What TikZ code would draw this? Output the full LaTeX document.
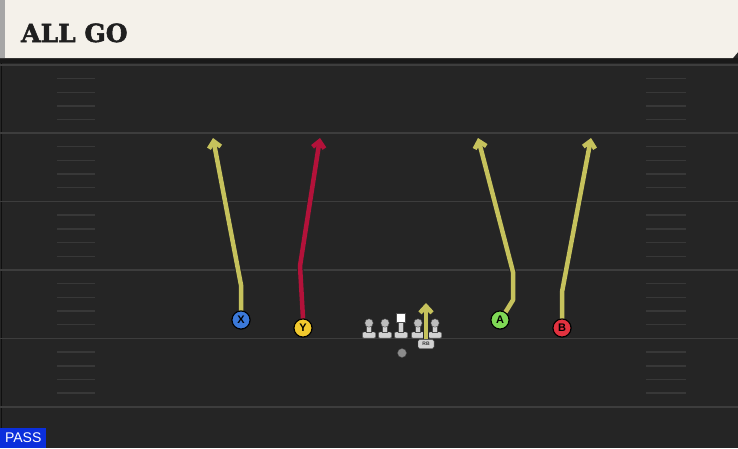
\documentclass[tikz,border=0pt]{standalone}
\usepackage{fontspec}
\setmainfont{DejaVu Serif}
\setsansfont{Liberation Sans}
\newfontfamily\titlefont[UprightFont={* Bold}, UprightFeatures={FakeBold=2}]{DejaVu Serif}
\usetikzlibrary{arrows.meta}
\definecolor{cream}{HTML}{F4F1EA}
\definecolor{fieldbg}{HTML}{252525}
\definecolor{yardline}{HTML}{3D3D3D}
\definecolor{hashc}{HTML}{383838}
\definecolor{olive}{HTML}{C6C25C}
\definecolor{routered}{HTML}{B3123A}
\definecolor{xblue}{HTML}{3B79D9}
\definecolor{yyellow}{HTML}{F2C92E}
\definecolor{agreen}{HTML}{7FD955}
\definecolor{bred}{HTML}{E2323F}
\definecolor{passblue}{HTML}{0B2FDC}
\definecolor{olgray}{HTML}{D2D2D2}
\tikzset{
  player/.style={circle, draw=black, line width=1pt, minimum size=18pt, inner sep=0pt,
    font=\sffamily\bfseries\fontsize{11}{11}\selectfont, text=black},
  routeout/.style={draw=black!85, line width=6.5pt, line join=round,
    -{Straight Barb[length=7.5pt,width=14pt,line width=6.5pt]}},
  routein/.style={line width=4.5pt, line join=round,
    -{Straight Barb[length=6.5pt,width=12pt,line width=4.5pt]}},
  yard/.style={draw=yardline, line width=1.6pt},
  hashm/.style={draw=hashc, line width=1.3pt},
  linepart/.style={fill=olgray, draw=black!70, line width=0.4pt},
}
\begin{document}
\begin{tikzpicture}[x=1pt,y=-1pt]
\useasboundingbox (0,0) rectangle (738,448);
% field
\fill[fieldbg] (0,0) rectangle (738,448);
\fill[black!90] (0,58) rectangle (738,63);
\draw[draw=black!60!fieldbg, line width=1.5pt] (1.5,63) -- (1.5,448);
% yard lines
\foreach \y in {65,133,201.5,270,338.3,407}
  \draw[yard] (0,\y) -- (738,\y);
% hash marks
\foreach \y in {65,133,201.5,270,338.3}{
  \foreach \k in {13.6,27.6,41,54.8}{
    \draw[hashm] (57,\y+\k) -- (95,\y+\k);
    \draw[hashm] (646,\y+\k) -- (686,\y+\k);
  }
}
% header
\fill[cream] (0,0) -- (738,0) -- (738,52) -- (733,58) -- (0,58) -- cycle;
\fill[black!35] (0,0) rectangle (5,58);
\node[anchor=base west, inner sep=0pt, text=black!88,
  font=\titlefont\fontsize{25}{25}\selectfont] (title) at (21,42) {ALL GO};
% players
\node[player, fill=xblue] (X) at (241,320) {X};
\node[player, fill=yyellow] (Y) at (303,328) {Y};
\node[player, fill=agreen] (A) at (500,320) {A};
\node[player, fill=bred] (B) at (562,328) {B};
% route waypoints
\coordinate (x1) at (241,285); \coordinate (xe) at (213,138);
\coordinate (y1) at (300,266); \coordinate (ye) at (320,138);
\coordinate (a1) at (513,300); \coordinate (a2) at (513,272); \coordinate (ae) at (478,138);
\coordinate (b1) at (562,292); \coordinate (be) at (591,138);
% routes
\draw[routeout] (X.north) -- (x1) -- (xe);
\draw[routein, draw=olive] (X.north) -- (x1) -- (xe);
\draw[routeout] (Y.north) -- (y1) -- (ye);
\draw[routein, draw=routered] (Y.north) -- (y1) -- (ye);
\draw[routeout] (A.55) -- (a1) -- (a2) -- (ae);
\draw[routein, draw=olive] (A.55) -- (a1) -- (a2) -- (ae);
\draw[routeout] (B.north) -- (b1) -- (be);
\draw[routein, draw=olive] (B.north) -- (b1) -- (be);
% redraw player discs on top
\node[player, fill=xblue] at (X) {X};
\node[player, fill=yyellow] at (Y) {Y};
\node[player, fill=agreen] at (A) {A};
\node[player, fill=bred] at (B) {B};
% offensive line
\foreach \cx in {369,385,418,435}{
  \filldraw[linepart, rounded corners=1pt] (\cx-6.5,332) rectangle (\cx+6.5,338);
  \filldraw[linepart] (\cx-2.5,324) rectangle (\cx+2.5,332.5);
  \filldraw[linepart, fill=olgray!75!gray] (\cx,323) circle (4.2);
}
\filldraw[linepart, rounded corners=1pt] (394.5,332) rectangle (407.5,338);
\filldraw[linepart] (398.5,322) rectangle (403.5,332.5);
\node[fill=white, draw=black!70, line width=0.4pt, minimum size=9pt, inner sep=0pt] (C) at (401,318) {};
% running back
\node[fill=olgray, draw=black!70, line width=0.4pt, rounded corners=1.5pt, minimum width=16pt,
  minimum height=9pt, inner sep=0pt, font=\sffamily\bfseries\fontsize{5}{5}\selectfont, text=black!80] (RB) at (426,344) {RB};
\coordinate (rbe) at (426,303);
\draw[routeout, line width=5.5pt] (RB.north) -- (rbe);
\draw[routein, draw=olive, line width=3.6pt] (RB.north) -- (rbe);
% quarterback
\node[circle, fill=black!45, draw=black!70, line width=0.4pt, minimum size=9pt, inner sep=0pt] (QB) at (402,353) {};
% PASS tag
\node[fill=passblue, anchor=south west, minimum width=46pt, minimum height=20pt, inner sep=0pt,
  text=white, font=\sffamily\fontsize{14}{14}\selectfont] (pass) at (0,448) {PASS};
\end{tikzpicture}
\end{document}
